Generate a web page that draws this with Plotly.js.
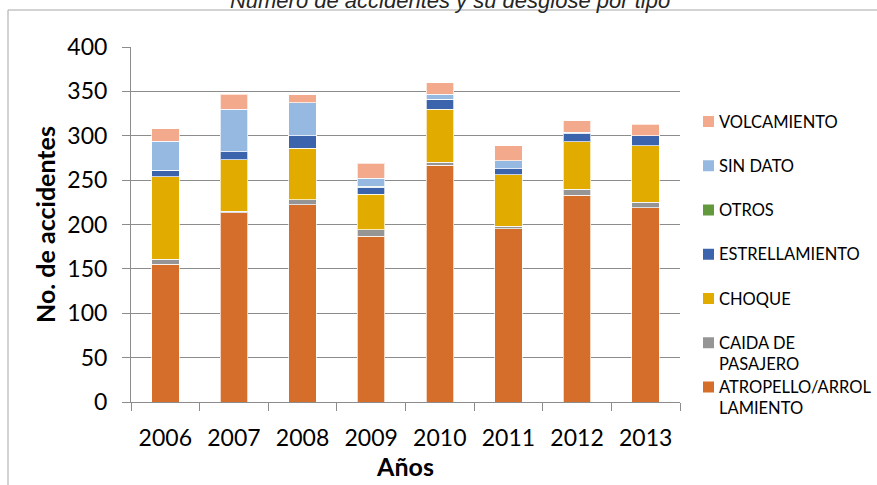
<!DOCTYPE html>
<html><head><meta charset="utf-8">
<script src="https://cdn.plot.ly/plotly-3.0.1.min.js"></script>
<style>html,body{margin:0;padding:0;background:#fff}#chart{width:877px;height:485px}</style>
</head><body><div id="chart"></div><script>
const years = ['2006','2007','2008','2009','2010','2011','2012','2013'];
const atropello = [155,213,222,187,267,195,233,219];
const caida = [6,2,6,7,3,3,7,6];
const choque = [93,58,58,40,60,58,53,64];
const estrellamiento = [7,9,14,8,11,7,9,11];
const otros = [0,0,0,1,0,0,0,0];
const sinDato = [33,48,37,9,6,9,2,0];
const volcamiento = [14,17,9,17,13,17,13,13];
const seriesNames = ['ATROPELLO/ARROLLAMIENTO','CAIDA DE PASAJERO','CHOQUE','ESTRELLAMIENTO','OTROS','SIN DATO','VOLCAMIENTO'];
const legendLabels = ['ATROPELLO/ARROL<br>LAMIENTO','CAIDA DE<br>PASAJERO','CHOQUE','ESTRELLAMIENTO','OTROS','SIN DATO','VOLCAMIENTO'];
const seriesValues = [atropello, caida, choque, estrellamiento, otros, sinDato, volcamiento];
const colors = ['#D46E2A','#959595','#E2AB00','#3B64AD','#63993D','#96B9E1','#F2A98C'];
const titleText = 'Número de accidentes y su desglose por tipo';

const W = 877, H = 485;
const L = 131, R = 680, T = 47, B = 402;
const px = x => (x - L) / (R - L);
const py = y => (B - y) / (B - T);

const traces = seriesValues.map((vals, i) => ({
  type: 'bar', x: years, y: vals, name: seriesNames[i],
  marker: {color: colors[i], line: {color: 'rgba(255,255,255,0.7)', width: 1}},
  showlegend: false, hoverinfo: 'x+y+name'
}));

const shapes = [{
  type: 'rect', xref: 'paper', yref: 'paper',
  x0: px(8), x1: px(900), y0: py(500), y1: py(10),
  line: {color: '#A6A6A6', width: 1}, fillcolor: 'rgba(0,0,0,0)'
}];
const annotations = [];
const legFont = 16.5;
seriesNames.forEach((n, i) => {
  const k = seriesNames.length - 1 - i;
  const cy = 121.5 + k * 44.25;
  shapes.push({type: 'rect', xref: 'paper', yref: 'paper',
    x0: px(703), x1: px(714), y0: py(cy + 5.5), y1: py(cy - 5.5),
    line: {width: 0}, fillcolor: colors[i]});
  const multi = legendLabels[i].includes('<br>');
  annotations.push({xref: 'paper', yref: 'paper', x: px(717), xanchor: 'left', align: 'left',
    y: multi ? py(cy - legFont * 0.65 - 1) : py(cy), yanchor: multi ? 'top' : 'middle',
    text: legendLabels[i], showarrow: false,
    font: {family: 'Lato, sans-serif', size: legFont, color: '#000'}});
});

const layout = {
  width: W, height: H, autosize: false,
  margin: {l: L, r: W - R, t: T, b: H - B, pad: 0},
  paper_bgcolor: '#fff', plot_bgcolor: '#fff',
  barmode: 'stack', bargap: 0.6,
  font: {family: 'Lato, sans-serif', color: '#000'},
  title: {text: titleText, x: 450 / W, xanchor: 'center', y: 1, yref: 'container', yanchor: 'middle',
    font: {family: 'Liberation Sans, Arial, sans-serif', size: 22, style: 'italic', color: '#262626'}},
  xaxis: {type: 'category', tickson: 'boundaries', ticks: 'outside', ticklen: 8, tickcolor: '#8C8C8C',
    showline: true, linecolor: '#8C8C8C', linewidth: 1, showgrid: false,
    tickfont: {size: 23, color: '#000'}, ticklabelstandoff: 15,
    title: {text: 'Años', font: {size: 25, weight: 'bold', color: '#000'}, standoff: 6}},
  yaxis: {range: [0, 400], dtick: 50, tick0: 0, ticks: 'outside', ticklen: 8, tickcolor: '#8C8C8C',
    showline: true, linecolor: '#8C8C8C', linewidth: 1, showgrid: true, gridcolor: '#8C8C8C', gridwidth: 1,
    zeroline: false, tickfont: {size: 23, color: '#000'}, ticklabelstandoff: 10,
    title: {text: 'No. de accidentes', font: {size: 25, weight: 'bold', color: '#000'}, standoff: 4}},
  shapes: shapes, annotations: annotations
};
Plotly.newPlot('chart', traces, layout, {staticPlot: true, displayModeBar: false});
</script></body></html>
